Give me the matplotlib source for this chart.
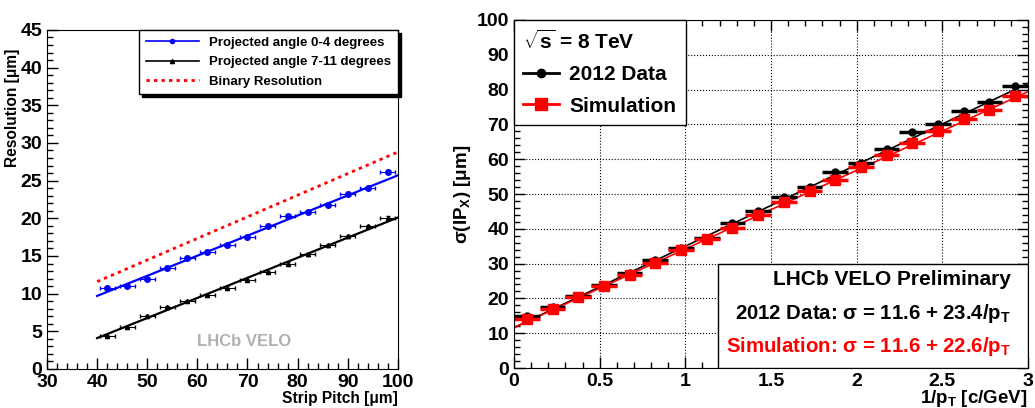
import numpy as np
import matplotlib
matplotlib.use("Agg")
import matplotlib.pyplot as plt
from matplotlib.lines import Line2D
from matplotlib.patches import Rectangle
from matplotlib.ticker import MultipleLocator, FuncFormatter

plt.rcParams['font.family'] = ['Liberation Sans', 'DejaVu Sans']
plt.rcParams['font.weight'] = 'bold'
plt.rcParams['mathtext.fontset'] = 'custom'
plt.rcParams['mathtext.rm'] = 'Liberation Sans:bold'
plt.rcParams['mathtext.it'] = 'Liberation Sans:bold'
plt.rcParams['mathtext.bf'] = 'Liberation Sans:bold'
plt.rcParams['mathtext.sf'] = 'Liberation Sans:bold'

# ---------------- Left panel data ----------------
pitch = [42, 46, 50, 54, 58, 62, 66, 70, 74, 78, 82, 86, 90, 94, 98]
pitch_err = 1.5
res_0_4 = [10.8, 11.0, 12.0, 13.4, 14.7, 15.5, 16.5, 17.5, 19.0, 20.3, 20.8, 21.8, 23.2, 24.0, 26.2]
res_0_4_err = [0.15] * 15
res_7_11 = [4.4, 5.6, 7.0, 8.2, 9.0, 9.8, 10.8, 11.8, 12.9, 14.0, 15.2, 16.4, 17.6, 19.0, 20.1]
res_7_11_err = [0.15] * 15
fit_x = [40, 100]
fit_0_4 = [9.7, 25.7]
fit_7_11 = [4.1, 20.1]
binary_res = [11.6, 28.8]

# ---------------- Right panel data ----------------
inv_pt = [0.075, 0.225, 0.375, 0.525, 0.675, 0.825, 0.975, 1.125, 1.275, 1.425,
          1.575, 1.725, 1.875, 2.025, 2.175, 2.325, 2.475, 2.625, 2.775, 2.925]
inv_pt_err = 0.075
ip_data = [15.0, 17.4, 20.8, 23.8, 27.2, 31.0, 34.4, 37.4, 41.8, 45.2,
           49.1, 52.0, 56.2, 58.9, 62.8, 67.8, 70.0, 73.8, 76.4, 81.0]
ip_sim = [14.0, 16.9, 20.5, 23.6, 26.8, 30.3, 33.8, 37.0, 40.2, 44.0,
          47.6, 50.8, 54.1, 57.7, 61.3, 64.7, 68.2, 71.6, 74.1, 78.1]
fitr_x = [0.0, 3.0]
fit_data = [11.6, 81.8]
fit_sim = [11.6, 79.4]

fig = plt.figure(figsize=(10.35, 4.08), dpi=100)
gfmt = FuncFormatter(lambda v, p: f'{v:g}')

def root_ticks(ax, right_top=False):
    ax.tick_params(which='both', direction='in', top=right_top, right=right_top,
                   labelsize=14, width=1)
    ax.tick_params(which='major', length=8)
    ax.tick_params(which='minor', length=4)
    ax.xaxis.set_major_formatter(gfmt)
    ax.yaxis.set_major_formatter(gfmt)
    for lab in ax.get_xticklabels() + ax.get_yticklabels():
        lab.set_fontweight('bold')

# ---------------- Left panel ----------------
ax1 = fig.add_axes([0.0454, 0.0956, 0.339, 0.831])
ax1.plot(fit_x, binary_res, color='red', linestyle=(0, (1.2, 1.5)), linewidth=2)
ax1.plot(fit_x, fit_0_4, color='blue', linewidth=1.6)
ax1.plot(fit_x, fit_7_11, color='black', linewidth=1.6)
ax1.errorbar(pitch, res_0_4, xerr=pitch_err, yerr=res_0_4_err, fmt='o', color='blue',
             markersize=4, elinewidth=0.8, capsize=1.5)
ax1.errorbar(pitch, res_7_11, xerr=pitch_err, yerr=res_7_11_err, fmt='^', color='black',
             markersize=3, elinewidth=0.8, capsize=1.5)
ax1.set_xlim(30, 100)
ax1.set_ylim(0, 45)
ax1.xaxis.set_major_locator(MultipleLocator(10))
ax1.xaxis.set_minor_locator(MultipleLocator(2))
ax1.yaxis.set_major_locator(MultipleLocator(5))
ax1.yaxis.set_minor_locator(MultipleLocator(1))
root_ticks(ax1)
ax1.set_ylabel('Resolution [\u03bcm]', fontsize=11.2, fontweight='bold', loc='top')
ax1.yaxis.set_label_coords(-0.077, 0.944)
ax1.set_xlabel('Strip Pitch [\u03bcm]', fontsize=11.2, fontweight='bold', loc='right', labelpad=0)
ax1.text(0.561, 0.08, 'LHCb VELO', transform=ax1.transAxes, color='#b0b0b0',
         fontsize=12, fontweight='bold', ha='center', va='center')
h1 = [Line2D([], [], color='blue', marker='o', markersize=3, linewidth=1.2),
      Line2D([], [], color='black', marker='^', markersize=3, linewidth=1.2),
      Line2D([], [], color='red', linestyle=(0, (1.2, 1.5)), linewidth=2)]
leg1 = ax1.legend(h1, ['Projected angle 0-4 degrees', 'Projected angle 7-11 degrees',
                       'Binary Resolution'],
                  loc='upper right', bbox_to_anchor=(1.0, 1.0), borderaxespad=0,
                  fancybox=False, edgecolor='black', framealpha=1,
                  shadow={'color': 'black', 'alpha': 1},
                  prop={'size': 9.5, 'weight': 'bold'}, handlelength=4.0,
                  labelspacing=0.55, borderpad=0.5, handletextpad=0.8)
leg1.get_frame().set_linewidth(1)

# ---------------- Right panel ----------------
ax2 = fig.add_axes([0.4966, 0.098, 0.4966, 0.853])
ax2.grid(True, which='major', linestyle=':', color='black', linewidth=0.8)
ax2.plot(fitr_x, fit_data, color='black', linewidth=1.2)
ax2.plot(fitr_x, fit_sim, color='red', linewidth=1.2)
ax2.errorbar(inv_pt, ip_data, xerr=inv_pt_err, fmt='o', color='black', markersize=5,
             elinewidth=2.5, capsize=0)
ax2.errorbar(inv_pt, ip_sim, xerr=inv_pt_err, fmt='s', color='red', markersize=7,
             elinewidth=2.5, capsize=0)
ax2.set_xlim(0, 3)
ax2.set_ylim(0, 100)
ax2.xaxis.set_major_locator(MultipleLocator(0.5))
ax2.xaxis.set_minor_locator(MultipleLocator(0.1))
ax2.yaxis.set_major_locator(MultipleLocator(10))
ax2.yaxis.set_minor_locator(MultipleLocator(2))
ax2.set_axisbelow(True)
root_ticks(ax2, right_top=True)
ax2.set_ylabel(r'$\sigma$(IP$_X$) [$\mu$m]', fontsize=13.5, fontweight='bold', labelpad=3)
ax2.set_xlabel(r'1/p$_T$ [c/GeV]', fontsize=13.5, fontweight='bold', loc='right', labelpad=-1)

h2 = [Line2D([], [], color='black', marker='o', markersize=6, linewidth=2),
      Line2D([], [], color='red', marker='s', markersize=8, linewidth=2)]
leg2 = ax2.legend(h2, ['2012 Data', 'Simulation'], title=r'$\sqrt{s}$ = 8 TeV',
                  alignment='left', loc='upper left', bbox_to_anchor=(0, 1.0),
                  borderaxespad=0, fancybox=False, edgecolor='black', framealpha=1,
                  prop={'size': 15, 'weight': 'bold'}, title_fontsize=15,
                  handlelength=1.7, handletextpad=0.5, borderpad=0.45, labelspacing=0.6)
leg2.get_frame().set_linewidth(1)

ax2.add_patch(Rectangle((0.397, 0.0), 0.603, 0.3, transform=ax2.transAxes,
                        facecolor='white', edgecolor='black', linewidth=1, zorder=5))
ax2.text(0.967, 0.254, 'LHCb VELO Preliminary', transform=ax2.transAxes, ha='right',
         va='center', fontsize=15, fontweight='bold', zorder=6)
ax2.text(0.967, 0.157, r'2012 Data: $\sigma$ = 11.6 + 23.4/p$_T$', transform=ax2.transAxes,
         ha='right', va='center', fontsize=14.7, fontweight='bold', zorder=6)
ax2.text(0.967, 0.061, r'Simulation: $\sigma$ = 11.6 + 22.6/p$_T$', transform=ax2.transAxes,
         ha='right', va='center', fontsize=14.7, fontweight='bold', color='red', zorder=6)

fig.savefig('out.png', dpi=100)
